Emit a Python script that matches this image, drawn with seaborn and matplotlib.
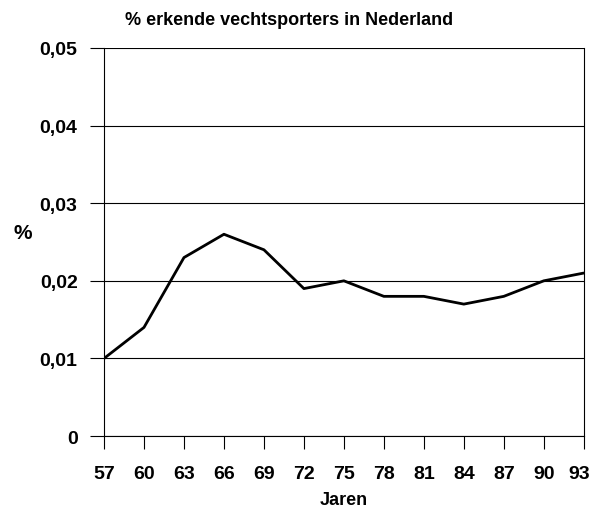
import numpy as np
import pandas as pd
import matplotlib
matplotlib.use("Agg")
import matplotlib.pyplot as plt
import matplotlib.ticker as mticker
import matplotlib.transforms as mtransforms
import seaborn as sns

jaren = [57, 60, 63, 66, 69, 72, 75, 78, 81, 84, 87, 90, 93]
percentage = [0.010, 0.014, 0.023, 0.026, 0.024, 0.019, 0.020,
              0.018, 0.018, 0.017, 0.018, 0.020, 0.021]
y_ticks = [0, 0.01, 0.02, 0.03, 0.04, 0.05]

sns.set_style("white")
plt.rcParams['font.family'] = ['Liberation Sans', 'DejaVu Sans']
plt.rcParams.update({"text.color": "black", "axes.labelcolor": "black",
                     "xtick.color": "black", "ytick.color": "black"})

df = pd.DataFrame({"Jaren": jaren, "pct": percentage})

fig = plt.figure(figsize=(5.93, 5.10), dpi=100)
ax = fig.add_axes([0.1754, 0.143, 0.809, 0.761])

sns.lineplot(data=df, x="Jaren", y="pct", color="black", linewidth=2.0, ax=ax)

ax.set_xlim(57, 93)
ax.set_ylim(0, 0.05)
ax.set_xticks(jaren)
ax.set_yticks(y_ticks)
ax.yaxis.set_major_formatter(mticker.FuncFormatter(
    lambda v, p: "0" if v == 0 else f"{v:.2f}".replace(".", ",")))
ax.grid(axis="y", color="black", linewidth=0.8)
ax.set_axisbelow(True)

for s in ["left", "right", "top", "bottom"]:
    ax.spines[s].set_color("black")
    ax.spines[s].set_linewidth(0.8)
ax.spines["top"].set_visible(False)

ax.tick_params(axis="y", left=True, direction="out", length=10,
               width=0.8, color="black", labelsize=14, pad=9)
ax.tick_params(axis="x", bottom=True, direction="out", length=9,
               width=0.8, color="black", labelsize=14, pad=12)
for lbl in ax.get_xticklabels() + ax.get_yticklabels():
    lbl.set_fontweight("bold")
# last label sits a little left of its tick so it is not cut off
last = ax.get_xticklabels()[-1]
last.set_transform(last.get_transform() +
                   mtransforms.ScaledTranslation(-5 / 100, 0, fig.dpi_scale_trans))

ax.set_xlabel("Jaren", fontsize=13, fontweight="heavy", labelpad=6)
ax.set_ylabel("%", fontsize=15, fontweight="heavy", rotation=0)
ax.yaxis.set_label_coords(-0.17, 0.5)
ax.set_title("% erkende vechtsporters in Nederland", fontsize=13,
             fontweight="bold", pad=17, x=0.385)

fig.savefig("out.png", dpi=100)
